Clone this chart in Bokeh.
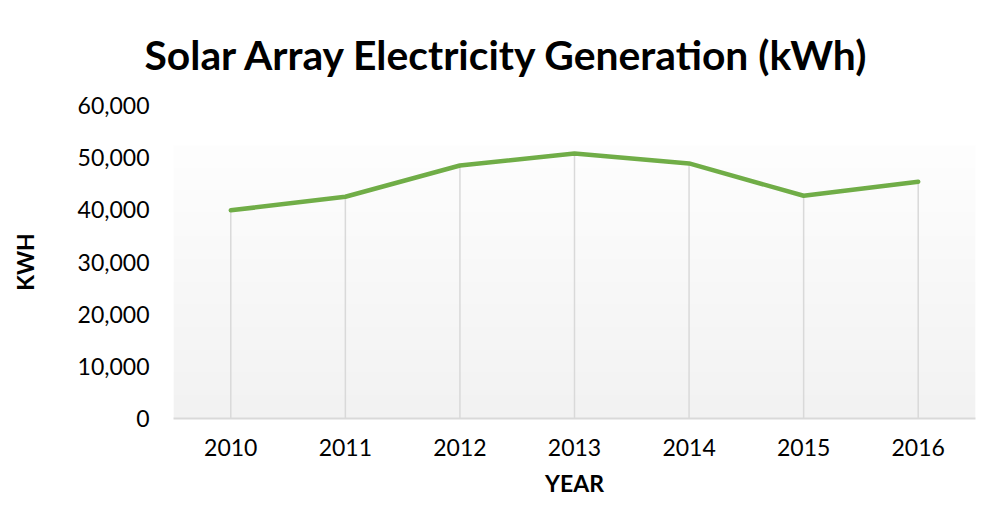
import numpy as np
from bokeh.plotting import figure
from bokeh.models import Range1d, FixedTicker, NumeralTickFormatter
from bokeh.embed import file_html
from bokeh.resources import INLINE

years = [2010, 2011, 2012, 2013, 2014, 2015, 2016]
kwh = [39900, 42500, 48500, 50800, 48900, 42700, 45400]
y_ticks = [0, 10000, 20000, 30000, 40000, 50000, 60000]
title_text = "Solar Array Electricity Generation (kWh)"
x_title = "YEAR"
y_title = "KWH"

W, H = 980, 516
ML, MR, MB, MT = 173, 5, 98, 105
p = figure(width=W, height=H, output_backend="svg", toolbar_location=None,
           x_range=Range1d(years[0] - 0.5, years[-1] + 0.5),
           y_range=Range1d(y_ticks[0], y_ticks[-1]),
           min_border_left=ML, min_border_right=MR,
           min_border_bottom=MB, min_border_top=MT)

p.title.text = title_text
p.title.text_font = "Lato"
p.title.text_font_size = "40.8px"
p.title.text_font_style = "bold"
p.title.text_color = "#000000"
p.title.align = "left"
p.title.offset = -29
p.title.standoff = 53

# plot-area gradient (decoration)
n = 256
grad_top = 52300
img = np.empty((n, 1), dtype=np.uint32)
view = img.view(dtype=np.uint8).reshape((n, 1, 4))
t = np.linspace(0, 1, n)
c = (242 + (254 - 242) * t).astype(np.uint8)
view[:, 0, 0] = c
view[:, 0, 1] = c
view[:, 0, 2] = c
view[:, 0, 3] = 255
p.image_rgba(image=[img], x=years[0] - 0.5, y=0, dw=len(years), dh=grad_top)

p.segment(x0=years, y0=[0] * len(years), x1=years, y1=kwh,
          line_color="#d9d9d9", line_width=1.5)
p.line(years, kwh, line_color="#70ad47", line_width=4.5,
       line_join="round", line_cap="round")

p.xgrid.visible = False
p.ygrid.visible = False
p.outline_line_color = None
p.background_fill_color = "#ffffff"
p.border_fill_color = "#ffffff"

p.xaxis.ticker = FixedTicker(ticks=years)
p.yaxis.ticker = FixedTicker(ticks=y_ticks)
p.yaxis.formatter = NumeralTickFormatter(format="0,0")

for ax in (p.xaxis, p.yaxis):
    ax.major_tick_line_color = None
    ax.minor_tick_line_color = None
    ax.major_label_text_font = "Lato"
    ax.major_label_text_font_size = "23px"
    ax.major_label_text_color = "#000000"
    ax.axis_label_text_font = "Lato"
    ax.axis_label_text_font_size = "23px"
    ax.axis_label_text_font_style = "bold"
    ax.axis_label_text_color = "#000000"

p.xaxis.axis_label = x_title
p.yaxis.axis_label = y_title
p.xaxis.axis_line_color = "#d9d9d9"
p.xaxis.axis_line_width = 2
p.yaxis.axis_line_color = None
p.xaxis.major_label_standoff = 14
p.xaxis.axis_label_standoff = 10
p.yaxis.major_label_standoff = 18
p.yaxis.axis_label_standoff = 36

open("out.html", "w").write(file_html(p, INLINE))
